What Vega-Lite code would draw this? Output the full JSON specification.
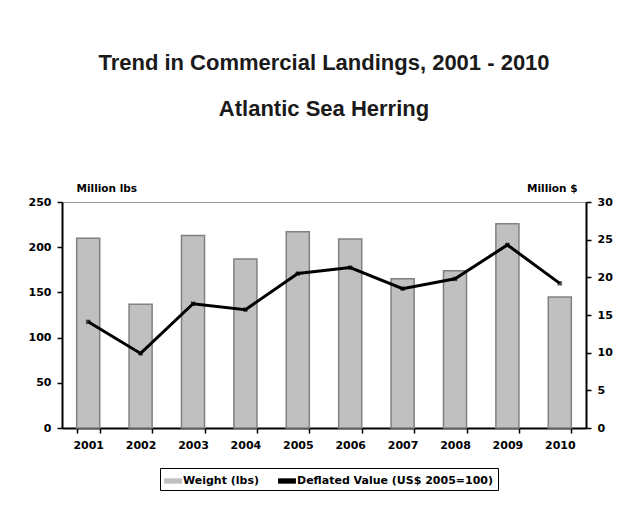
{
  "$schema": "https://vega.github.io/schema/vega-lite/v6.json",
  "width": 524,
  "height": 226,
  "autosize": {"type": "none"},
  "padding": {"left": 62, "top": 202, "right": 44, "bottom": 92},
  "background": "white",
  "title": {
    "text": ["Trend  in Commercial Landings, 2001 - 2010", "Atlantic Sea Herring"],
    "font": "Liberation Sans",
    "fontSize": 22,
    "fontWeight": "bold",
    "color": "#1a1a1a",
    "lineHeight": 46,
    "anchor": "middle",
    "frame": "group",
    "offset": 62
  },
  "data": {
    "values": [
      {"year": "2001", "weight": 210, "value": 14.1},
      {"year": "2002", "weight": 137, "value": 9.9},
      {"year": "2003", "weight": 213, "value": 16.5},
      {"year": "2004", "weight": 187, "value": 15.7},
      {"year": "2005", "weight": 217, "value": 20.5},
      {"year": "2006", "weight": 209, "value": 21.3},
      {"year": "2007", "weight": 165, "value": 18.5},
      {"year": "2008", "weight": 174, "value": 19.8},
      {"year": "2009", "weight": 226, "value": 24.3},
      {"year": "2010", "weight": 145, "value": 19.2}
    ]
  },
  "encoding": {
    "x": {
      "field": "year",
      "type": "ordinal",
      "title": null,
      "scale": {"paddingInner": 0.56, "paddingOuter": 0.28},
      "axis": {
        "labelAngle": 0,
        "labelFont": "DejaVu Sans",
        "labelFontSize": 11,
        "labelFontWeight": "bold",
        "labelColor": "black",
        "labelPadding": 6,
        "tickBand": "extent",
        "tickColor": "black",
        "tickSize": 5,
        "tickWidth": 1.5,
        "domainColor": "black",
        "domainWidth": 2
      }
    }
  },
  "layer": [
    {
      "mark": {"type": "bar", "stroke": "#808080", "strokeWidth": 1.5},
      "encoding": {
        "y": {
          "field": "weight",
          "type": "quantitative",
          "scale": {"domain": [0, 250], "nice": false},
          "axis": {
            "title": "Million lbs",
            "titleAngle": 0,
            "titleAlign": "left",
            "titleBaseline": "bottom",
            "titleX": 14,
            "titleY": -9,
            "titleFont": "DejaVu Sans",
            "titleFontSize": 10.5,
            "titleFontWeight": "bold",
            "titleColor": "black",
            "values": [0, 50, 100, 150, 200, 250],
            "grid": false,
            "labelFont": "DejaVu Sans",
            "labelFontSize": 11,
            "labelFontWeight": "bold",
            "labelColor": "black",
            "labelPadding": 6,
            "tickColor": "black",
            "tickSize": 5,
            "tickWidth": 1.5,
            "domainColor": "black",
            "domainWidth": 2
          }
        },
        "color": {
          "datum": "Weight (lbs)",
          "type": "nominal",
          "scale": {"domain": ["Weight (lbs)", "Deflated Value (US$ 2005=100)"], "range": ["#c0c0c0", "black"]},
          "legend": {
            "orient": "none",
            "legendX": 98,
            "legendY": 266,
            "direction": "horizontal",
            "title": null,
            "strokeColor": "black",
            "fillColor": "white",
            "padding": 4,
            "columnPadding": 18,
            "symbolType": "M-1,-0.3H1V0.3H-1Z",
            "symbolSize": 320,
            "symbolStrokeWidth": 0,
            "symbolOffset": 0,
            "labelFont": "DejaVu Sans",
            "labelFontSize": 11,
            "labelFontWeight": "bold",
            "labelColor": "black",
            "labelOffset": 1,
            "labelLimit": 400
          }
        }
      }
    },
    {
      "layer": [
        {
          "mark": {"type": "line", "strokeWidth": 3, "color": "black"},
          "encoding": {
            "color": {"datum": "Deflated Value (US$ 2005=100)", "type": "nominal"}
          }
        },
        {
          "mark": {"type": "point", "shape": "cross", "size": 28, "filled": true, "color": "black", "angle": 45}
        }
      ],
      "encoding": {
        "y": {
          "field": "value",
          "type": "quantitative",
          "scale": {"domain": [0, 30], "nice": false},
          "axis": {
            "orient": "right",
            "title": "Million $",
            "titleAngle": 0,
            "titleAlign": "right",
            "titleBaseline": "bottom",
            "titleX": -9,
            "titleY": -9,
            "titleFont": "DejaVu Sans",
            "titleFontSize": 10.5,
            "titleFontWeight": "bold",
            "titleColor": "black",
            "values": [0, 5, 10, 15, 20, 25, 30],
            "grid": false,
            "labelFont": "DejaVu Sans",
            "labelFontSize": 11,
            "labelFontWeight": "bold",
            "labelColor": "black",
            "labelPadding": 6,
            "tickColor": "black",
            "tickSize": 5,
            "tickWidth": 1.5,
            "domainColor": "black",
            "domainWidth": 2
          }
        }
      }
    }
  ],
  "resolve": {"scale": {"y": "independent"}},
  "config": {
    "view": {"stroke": "#999999", "strokeWidth": 1}
  }
}
